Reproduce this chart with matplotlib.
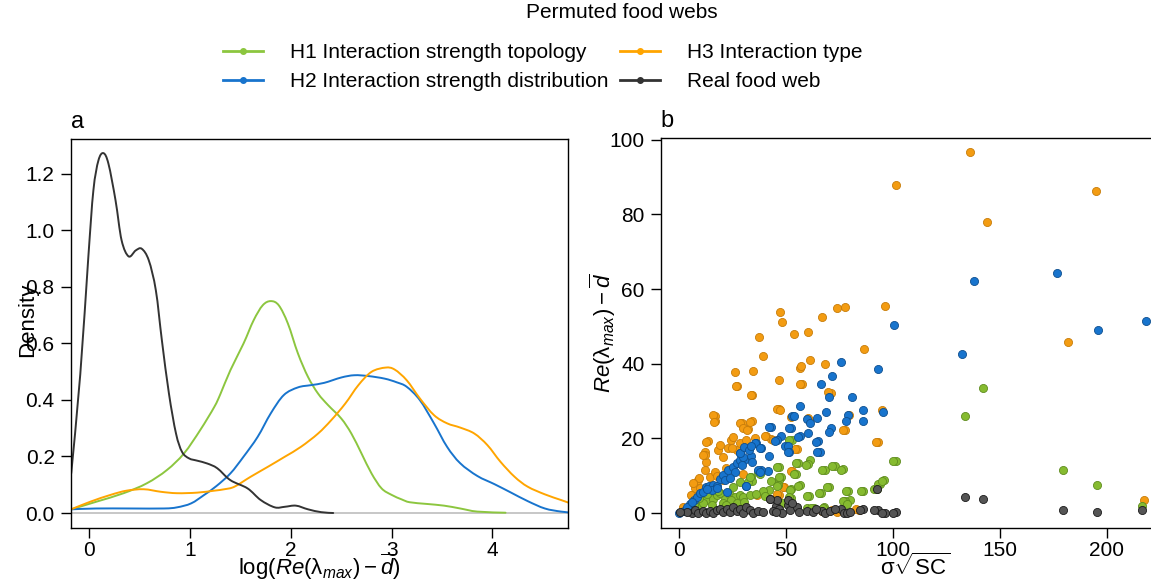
import numpy as np
import matplotlib
matplotlib.use("Agg")
import matplotlib.pyplot as plt
from matplotlib.lines import Line2D
from matplotlib.path import Path
from matplotlib.patches import PathPatch

plt.rcParams['font.family'] = ['Liberation Sans', 'DejaVu Sans']
plt.rcParams['mathtext.fontset'] = 'custom'
plt.rcParams['mathtext.rm'] = 'Liberation Sans'
plt.rcParams['mathtext.it'] = 'Liberation Sans:italic'
plt.rcParams['mathtext.sf'] = 'Liberation Sans'

# colours
c_h1 = '#8cc63f'
c_h2 = '#1874cd'
c_h3 = '#ffa500'
c_real = '#333333'

# ---- panel a: density curves ----
real_x = [-0.18, -0.09, -0.01, 0.04, 0.09, 0.14, 0.19, 0.26, 0.32, 0.39, 0.46, 0.52, 0.59, 0.66,
          0.72, 0.79, 0.86, 0.92, 0.99, 1.07, 1.17, 1.27, 1.40, 1.57, 1.70, 1.84, 1.94, 2.05, 2.17,
          2.30, 2.42]
real_y = [0.14, 0.49, 0.905, 1.14, 1.246, 1.272, 1.234, 1.105, 0.964, 0.907, 0.928, 0.934, 0.893,
          0.787, 0.61, 0.422, 0.281, 0.216, 0.193, 0.185, 0.175, 0.158, 0.116, 0.087, 0.046, 0.020,
          0.022, 0.026, 0.013, 0.003, 0.0]

h1_x = [-0.18, 0.07, 0.34, 0.57, 0.77, 0.94, 1.10, 1.24, 1.30, 1.40, 1.53, 1.63, 1.72, 1.80, 1.88,
        1.97, 2.07, 2.17, 2.27, 2.37, 2.50, 2.60, 2.70, 2.80, 2.90, 3.00, 3.10, 3.18, 3.35, 3.52,
        3.68, 3.85, 4.13]
h1_y = [0.013, 0.04, 0.07, 0.105, 0.152, 0.211, 0.293, 0.375, 0.42, 0.505, 0.599, 0.681, 0.734,
        0.749, 0.734, 0.67, 0.564, 0.481, 0.422, 0.381, 0.334, 0.281, 0.211, 0.14, 0.087, 0.064,
        0.048, 0.038, 0.032, 0.026, 0.016, 0.005, 0.001]

h2_x = [-0.18, 0.07, 0.41, 0.74, 0.87, 1.01, 1.14, 1.26, 1.40, 1.53, 1.67, 1.80, 1.93, 2.07, 2.20,
        2.33, 2.50, 2.63, 2.77, 2.93, 3.05, 3.15, 3.28, 3.42, 3.55, 3.68, 3.85, 4.02, 4.18, 4.35,
        4.52, 4.68, 4.80]
h2_y = [0.013, 0.016, 0.016, 0.016, 0.02, 0.034, 0.064, 0.095, 0.14, 0.199, 0.269, 0.352, 0.417,
        0.444, 0.452, 0.46, 0.479, 0.487, 0.484, 0.475, 0.462, 0.446, 0.399, 0.317, 0.234, 0.176,
        0.131, 0.102, 0.073, 0.042, 0.016, 0.005, 0.001]

h3_x = [-0.18, 0.01, 0.21, 0.37, 0.54, 0.71, 0.87, 1.07, 1.24, 1.34, 1.44, 1.60, 1.77, 1.94, 2.10,
        2.27, 2.40, 2.54, 2.67, 2.80, 2.94, 3.03, 3.15, 3.28, 3.42, 3.55, 3.68, 3.82, 3.95, 4.08,
        4.22, 4.35, 4.52, 4.68, 4.80]
h3_y = [0.013, 0.04, 0.064, 0.079, 0.084, 0.075, 0.07, 0.072, 0.079, 0.084, 0.093, 0.128, 0.163,
        0.199, 0.234, 0.281, 0.328, 0.387, 0.452, 0.499, 0.514, 0.507, 0.469, 0.405, 0.346, 0.317,
        0.302, 0.281, 0.24, 0.181, 0.128, 0.093, 0.066, 0.046, 0.031]

# ---- panel b: scatter points ----
h3_sx = [136.2, 101.6, 195.2, 144.1, 181.8, 96.3, 77.7, 73.9, 47.3, 48.2, 66.7, 53.8, 60.5, 37.3,
         39.4, 86.7, 61.1, 56.6, 56.9, 68.3, 26.1, 34.6, 27.2, 34.2, 46.6, 57.4, 70.9, 46.9, 94.8,
         16.7, 16.7, 34.1, 29.4, 32.3, 77.7, 93.2, 13.4, 52.6, 61.0, 79.6, 40.8, 43.0, 55.2, 53.0,
         49.2, 46.6, 84.3, 217.5, 56.5, 69.8, 45.9, 60.4, 76.5, 92.1, 54.5, 52.2, 48.5, 45.9, 71.4,
         73.7, 83.0, 66.7, 2.0, 5.9, 7.5, 9.0, 9.3, 12.1, 12.6, 16.0, 16.5, 12.9, 12.1, 12.1, 18.4,
         19.2, 20.7, 23.0, 24.6, 25.4, 27.0, 28.5, 28.8, 30.1, 31.9, 33.2, 33.6, 26.5, 31.6, 35.5,
         40.2, 14.5, 9.8, 16.8, 20.7, 44.1, 47.2, 36.3, 5.5, 6.7, 11.4, 22.0, 25.0, 30.0, 18.0]
h3_sy = [96.7, 87.9, 86.4, 78.1, 45.7, 55.4, 55.1, 55.0, 53.8, 51.3, 52.4, 48.1, 48.5, 47.1, 42.0,
         43.9, 40.9, 38.8, 39.4, 39.9, 37.8, 38.1, 34.1, 31.6, 35.7, 34.6, 32.3, 27.8, 27.5, 26.1,
         24.6, 24.6, 24.0, 22.5, 22.3, 19.0, 19.3, 25.8, 25.0, 26.2, 20.7, 19.8, 17.2, 11.4, 7.0,
         4.9, 0.9, 3.4, 34.6, 32.4, 27.8, 25.4, 22.3, 19.0, 17.2, 11.3, 6.9, 5.0, 0.8, 0.35, 1.0,
         0.5, 1.7, 4.8, 6.6, 8.8, 9.3, 11.5, 13.8, 26.3, 24.5, 19.1, 16.4, 15.5, 16.9, 18.2, 14.9,
         17.3, 19.6, 20.5, 16.9, 18.7, 24.0, 22.7, 22.3, 24.5, 31.6, 34.0, 19.6, 20.0, 20.6, 9.7,
         6.6, 11.1, 8.8, 19.6, 27.6, 4.8, 4.8, 8.0, 15.5, 12.0, 17.5, 10.5, 10.0]

h1_sx = [142.2, 133.8, 179.4, 195.7, 216.7, 101.3, 96.1, 94.2, 92.5, 86.2, 79.3, 76.9, 72.9, 68.1,
         70.3, 66.4, 60.9, 61.2, 60.2, 55.5, 56.7, 52.8, 54.9, 52.5, 52.6, 46.6, 47.8, 46.6, 43.2,
         46.4, 42.1, 39.4, 40.4, 36.8, 37.8, 33.7, 34.1, 80.0, 77.6, 63.3, 67.9, 10.1, 12.9, 16.0,
         17.6, 19.2, 21.5, 23.8, 26.2, 28.5, 30.1, 33.2, 25.4, 28.5, 32.4, 33.2, 20.7, 24.6, 15.3,
         8.3, 100.1, 59.2, 54.7, 53.7, 45.7, 67.0, 71.8, 75.7, 51.5, 46.9, 45.7, 51.9, 55.9, 60.1,
         65.6, 69.3, 78.0, 85.0, 91.3, 92.9, 94.9, 76.5, 78.8, 51.5, 48.3, 59.7, 62.0, 67.4, 5.5,
         7.0, 11.5, 14.0, 18.5, 22.0, 27.0, 30.5, 36.0, 13.0, 9.5]
h1_sy = [33.4, 25.9, 11.5, 7.4, 1.8, 14.0, 8.75, 7.9, 6.4, 5.9, 5.9, 11.7, 12.7, 11.6, 7.0, 5.5,
         4.7, 14.3, 13.1, 13.5, 7.4, 19.6, 10.5, 6.5, 4.0, 12.3, 9.6, 8.75, 8.5, 7.4, 6.1, 5.8, 4.5,
         10.9, 10.5, 9.6, 8.5, 3.6, 3.2, 1.3, 1.5, 3.0, 3.5, 3.9, 4.8, 5.3, 3.9, 4.8, 4.4, 4.8, 4.4,
         4.8, 7.1, 8.4, 8.4, 9.6, 2.6, 3.5, 2.1, 1.7, 13.9, 13.0, 13.3, 10.5, 12.3, 11.5, 12.6, 11.5,
         19.6, 9.6, 7.2, 6.2, 7.2, 4.6, 5.4, 6.9, 5.8, 5.9, 6.4, 7.8, 8.7, 3.3, 2.4, 4.2, 2.8, 1.3,
         1.3, 1.3, 1.2, 2.2, 2.6, 5.8, 6.0, 2.2, 2.8, 3.0, 5.0, 5.0, 4.0]

h2_sx = [138.1, 176.6, 218.4, 196.0, 132.4, 100.8, 93.2, 75.7, 71.6, 66.4, 70.3, 81.0, 56.6, 69.0,
         86.2, 95.4, 86.2, 78.9, 78.1, 53.1, 54.0, 59.7, 64.5, 61.4, 52.3, 71.0, 70.0, 60.2, 56.6,
         65.2, 43.0, 47.8, 45.7, 49.4, 51.2, 51.6, 65.9, 36.1, 38.4, 42.3, 41.8, 38.2, 32.7, 33.9,
         34.2, 28.7, 30.3, 31.6, 0.0, 2.3, 5.1, 7.0, 8.3, 9.8, 11.4, 12.6, 14.2, 16.0, 17.6, 19.2,
         20.7, 23.0, 25.4, 27.0, 28.5, 30.1, 29.3, 26.2, 21.5, 15.3, 22.3, 31.3, 37.1, 37.9, 35.8,
         37.9, 42.2, 28.5, 30.4, 32.6, 33.5, 55.7, 51.5, 44.9, 64.3, 50.8, 64.8, 4.0, 6.0, 13.0,
         18.0, 24.0]
h2_sy = [62.1, 64.4, 51.4, 49.1, 42.5, 50.4, 38.5, 40.4, 36.7, 34.6, 31.1, 31.0, 28.6, 27.2, 27.6,
         27.0, 24.6, 26.3, 24.6, 25.9, 25.9, 25.2, 25.4, 24.1, 22.9, 22.9, 21.6, 21.4, 20.7, 19.2,
         23.1, 20.7, 19.5, 17.9, 18.0, 16.3, 16.3, 18.9, 17.4, 15.2, 11.3, 11.6, 17.4, 15.2, 13.8,
         16.1, 14.1, 7.3, 0.0, 0.6, 2.4, 3.5, 4.4, 5.3, 5.7, 7.1, 7.2, 7.5, 7.2, 9.0, 10.2, 11.5,
         12.4, 13.3, 14.2, 15.1, 12.9, 11.1, 8.8, 6.2, 5.7, 7.2, 11.5, 11.1, 18.9, 17.3, 23.1, 16.0,
         17.8, 16.9, 18.0, 20.5, 22.9, 19.4, 19.1, 16.3, 16.3, 1.5, 3.0, 6.5, 6.8, 9.5]

real_sx = [133.8, 142.4, 179.4, 195.7, 216.7, 101.6, 96.3, 92.9, 86.3, 92.5, 45.6, 46.9, 48.0, 51.1,
           51.9, 55.0, 56.2, 59.7, 62.8, 66.7, 68.2, 76.0, 77.1, 78.8, 84.9, 91.1, 94.9, 100.1,
           42.8, 45.9, 51.1, 52.7, 5.9, 7.5, 9.0, 11.4, 12.9, 14.5, 16.0, 17.6, 19.2, 20.7, 22.3,
           23.8, 25.4, 27.0, 28.5, 30.1, 31.6, 33.2, 34.7, 37.1, 39.4, 42.5, 44.1, 45.6, 3.6, 0.4,
           64.0, 70.5, 73.0, 80.0]
real_sy = [4.2, 3.8, 0.7, 0.2, 0.7, 0.2, 0.0, 0.7, 1.0, 6.4, 1.9, 1.0, 0.1, 2.1, 0.8, 1.7, 0.35, 0.6,
           0.35, 0.6, 0.1, 1.0, 0.1, 0.1, 0.8, 0.8, 0.1, 0.1, 3.7, 3.5, 3.5, 2.6, 0.1, 0.8, 0.1, 0.6,
           0.1, 0.6, 0.1, 0.8, 1.0, 0.35, 1.0, 0.35, 1.5, 0.6, 1.0, 0.1, 1.7, 0.8, 0.1, 0.6, 0.35,
           3.7, 0.6, 0.35, 0.35, 0.35, 1.2, 0.5, 1.1, 0.3]

labels = ['H1 Interaction strength topology', 'H2 Interaction strength distribution',
          'H3 Interaction type', 'Real food web']


def smooth_line(ax, xs, ys, color):
    # draw the read-off points as one smooth bezier path (catmull-rom control points)
    p = np.column_stack([xs, ys])
    n = len(p)
    verts = [p[0]]
    codes = [Path.MOVETO]
    for i in range(n - 1):
        p0 = p[i - 1] if i > 0 else p[i]
        p3 = p[i + 2] if i + 2 < n else p[i + 1]
        c1 = p[i] + (p[i + 1] - p0) / 6.0
        c2 = p[i + 1] - (p3 - p[i]) / 6.0
        verts += [c1, c2, p[i + 1]]
        codes += [Path.CURVE4] * 3
    ax.add_patch(PathPatch(Path(verts, codes), fill=False, edgecolor=color, lw=1.4,
                           capstyle='round', joinstyle='round'))


fig = plt.figure(figsize=(11.51, 5.81), dpi=100)
W, H = 1151.0, 581.0

# panel a
ax1 = fig.add_axes([70.7 / W, 1 - 528 / H, (568 - 70.7) / W, (528 - 139) / H])
ax1.axhline(0, color='#bebebe', lw=1.2, zorder=1)
smooth_line(ax1, h1_x, h1_y, c_h1)
smooth_line(ax1, h2_x, h2_y, c_h2)
smooth_line(ax1, h3_x, h3_y, c_h3)
smooth_line(ax1, real_x, real_y, c_real)
ax1.set_xlim(-0.185, 4.75)
ax1.set_ylim(-0.053, 1.322)
ax1.set_xticks([0, 1, 2, 3, 4])
ax1.set_yticks([0, 0.2, 0.4, 0.6, 0.8, 1.0, 1.2])
ax1.set_yticklabels(['0.0', '0.2', '0.4', '0.6', '0.8', '1.0', '1.2'])
ax1.set_xlabel(r'log$(Re(\mathrm{\lambda}_{max}) - \overline{d})$', fontsize=16, labelpad=-6)
fig.text(28 / W, 1 - 320 / H, 'Density', rotation=90, fontsize=16, ha='center', va='center')
ax1.text(0.0, 1.015, 'a', transform=ax1.transAxes, fontsize=17, ha='left', va='bottom')

# panel b (right side of the box runs past the figure edge)
ax2 = fig.add_axes([660.7 / W, 1 - 528 / H, 508 / W, (528 - 138.3) / H])
ax2.scatter(h3_sx, h3_sy, s=34, color='#f39c12', edgecolors='#c77d0a', linewidths=0.6, zorder=2)
ax2.scatter(h1_sx, h1_sy, s=34, color='#86bb30', edgecolors='#5f8c1f', linewidths=0.6, zorder=3)
ax2.scatter(h2_sx, h2_sy, s=34, color='#1874cd', edgecolors='#0e4f8f', linewidths=0.6, zorder=4)
ax2.scatter(real_sx, real_sy, s=34, color='#555555', edgecolors='#1a1a1a', linewidths=0.6, zorder=5)
ax2.set_xlim(-8.5, 229)
ax2.set_ylim(-4.0, 100.4)
ax2.set_xticks([0, 50, 100, 150, 200])
ax2.set_yticks([0, 20, 40, 60, 80, 100])
ax2.set_xlabel(r'$\mathrm{\sigma}\sqrt{\mathrm{SC}}$', fontsize=16, labelpad=-4)
ax2.set_ylabel(r'$Re(\mathrm{\lambda}_{max}) - \overline{d}$', fontsize=16)
ax2.yaxis.set_label_coords((618 - 660.7) / 508, 0.5)
ax2.text(0.0, 1.015, 'b', transform=ax2.transAxes, fontsize=17, ha='left', va='bottom')

for ax in (ax1, ax2):
    ax.tick_params(direction='out', length=7.5, width=1, labelsize=15)
    ax.tick_params(axis='x', pad=1.5)
    ax.tick_params(axis='y', pad=4)
    for sp in ax.spines.values():
        sp.set_linewidth(1.0)

handles = [Line2D([0], [0], color=c, lw=2, marker='o', markersize=4)
           for c in (c_h1, c_h2, c_h3, c_real)]
fig.text(622 / W, 1 - 13 / H, 'Permuted food webs', fontsize=15, ha='center', va='center')
leg = fig.legend(handles, labels, loc='upper center', bbox_to_anchor=(543 / W, 1 - 33 / H), ncol=2,
                 frameon=False, fontsize=15, borderpad=0.0,
                 handlelength=1.92, handletextpad=1.3, columnspacing=0.55, labelspacing=0.46)

fig.savefig('out.png', dpi=100)
